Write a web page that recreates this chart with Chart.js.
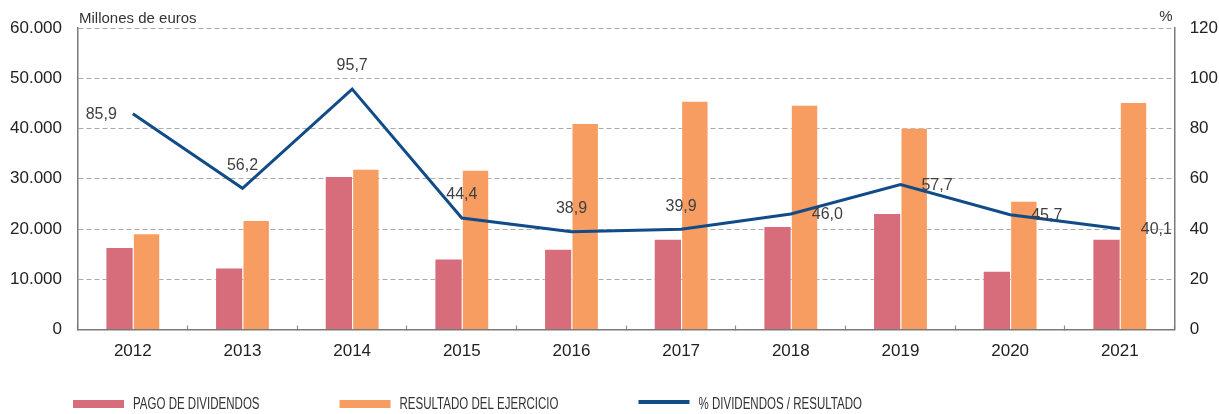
<!DOCTYPE html>
<html>
<head>
<meta charset="utf-8">
<script src="https://cdn.jsdelivr.net/npm/chart.js@4"></script>
<style>
html,body{margin:0;padding:0;background:#ffffff;}
canvas{display:block;}
</style>
</head>
<body>
<canvas id="c" width="1219" height="414"></canvas>
<script>
// ---- data ----
const categories = ['2012','2013','2014','2015','2016','2017','2018','2019','2020','2021'];
const dividendos = [16440, 12330, 30560, 14120, 16100, 18090, 20620, 23200, 11730, 18090];
const resultado  = [19150, 21810, 32000, 31800, 41090, 45530, 44730, 40160, 25650, 45270];
const porcentaje = [85.9, 56.2, 95.7, 44.4, 38.9, 39.9, 46.0, 57.7, 45.7, 40.1];
const seriesNames = ['PAGO DE DIVIDENDOS', 'RESULTADO DEL EJERCICIO', '% DIVIDENDOS / RESULTADO'];
const leftAxisTitle = 'Millones de euros';
const rightAxisTitle = '%';
const labelPlacement = ['left','top','top','top','top','top','right','right','right','right'];

// ---- styles ----
const PINK = '#D76C7B';
const ORANGE = '#F79D62';
const NAVY = '#114C88';
const GRID = '#ababab';
const AXIS = '#7a7a7a';
const FONT = '"Liberation Sans", Arial, sans-serif';

const fmtThousands = v => String(v).replace(/\B(?=(\d{3})+(?!\d))/g, '.');
const fmtPct = v => v.toFixed(1).replace('.', ',');

const pointLabels = {
  id: 'pointLabels',
  afterDatasetsDraw(chart) {
    const ctx = chart.ctx;
    const meta = chart.getDatasetMeta(2);
    ctx.save();
    ctx.font = '16px ' + FONT;
    ctx.fillStyle = '#404040';
    ctx.textBaseline = 'middle';
    meta.data.forEach((pt, i) => {
      const txt = fmtPct(porcentaje[i]);
      const p = labelPlacement[i];
      if (p === 'left') { ctx.textAlign = 'right'; ctx.fillText(txt, pt.x - 16, pt.y + 1); }
      else if (p === 'right') { ctx.textAlign = 'left'; ctx.fillText(txt, pt.x + 21, pt.y + 1); }
      else { ctx.textAlign = 'center'; ctx.fillText(txt, pt.x, pt.y - 23); }
    });
    ctx.restore();
  }
};

const unitTitles = {
  id: 'unitTitles',
  afterDraw(chart) {
    const ctx = chart.ctx, a = chart.chartArea;
    ctx.save();
    ctx.font = '15px ' + FONT;
    ctx.fillStyle = '#333333';
    ctx.textBaseline = 'alphabetic';
    ctx.textAlign = 'left';
    ctx.fillText(leftAxisTitle, a.left + 1, 23);
    ctx.textAlign = 'right';
    ctx.fillText(rightAxisTitle, a.right - 2, 21);
    ctx.restore();
  }
};

const customLegend = {
  id: 'customLegend',
  afterDraw(chart) {
    const ctx = chart.ctx;
    const squeeze = 0.72;
    ctx.save();
    ctx.font = '16px ' + FONT;
    ctx.textBaseline = 'middle';
    ctx.textAlign = 'left';
    let x = 73;
    const yMid = 404;
    chart.data.datasets.forEach(ds => {
      if (ds.type === 'line') {
        ctx.fillStyle = ds.borderColor;
        ctx.fillRect(x, yMid - 4, 51, 4);
      } else {
        ctx.fillStyle = ds.backgroundColor;
        ctx.fillRect(x, yMid - 4, 51, 8);
      }
      ctx.fillStyle = '#333333';
      const tx = x + 60;
      ctx.save();
      ctx.translate(tx, yMid + 1);
      ctx.scale(squeeze, 1);
      ctx.fillText(ds.label, 0, 0);
      ctx.restore();
      x = tx + ctx.measureText(ds.label).width * squeeze + 80;
    });
    ctx.restore();
  }
};

new Chart(document.getElementById('c'), {
  data: {
    labels: categories,
    datasets: [
      { type: 'bar', label: seriesNames[0], data: dividendos, backgroundColor: PINK,
        borderColor: 'rgba(255,255,255,0.3)', borderWidth: {top:1,left:1,right:0,bottom:0},
        yAxisID: 'y', order: 1, barPercentage: 1.0, categoryPercentage: 0.5 },
      { type: 'bar', label: seriesNames[1], data: resultado, backgroundColor: ORANGE,
        borderColor: 'rgba(255,255,255,0.3)', borderWidth: {top:1,left:1,right:1,bottom:0},
        yAxisID: 'y', order: 1, barPercentage: 1.0, categoryPercentage: 0.5 },
      { type: 'line', label: seriesNames[2], data: porcentaje, borderColor: NAVY, backgroundColor: NAVY,
        borderWidth: 3, pointRadius: 0, tension: 0, yAxisID: 'y1', order: 0 }
    ]
  },
  options: {
    responsive: false,
    animation: false,
    devicePixelRatio: 1,
    layout: { padding: { top: 28, left: -6, right: -14, bottom: 36 } },
    plugins: { legend: { display: false }, tooltip: { enabled: false } },
    scales: {
      x: {
        offset: true,
        grid: { display: true, drawOnChartArea: false, drawTicks: true, tickLength: -4, tickColor: '#8a8a8a', tickWidth: 1.2, offset: true },
        border: { display: true, color: AXIS, width: 1.5 },
        ticks: { color: '#222222', font: { family: FONT, size: 17 }, padding: 16 }
      },
      y: {
        position: 'left', min: 0, max: 60000,
        grid: { color: GRID, lineWidth: 1, drawTicks: false },
        border: { display: true, color: AXIS, width: 1.5, dash: [5, 3] },
        ticks: { stepSize: 10000, color: '#222222', font: { family: FONT, size: 17 }, padding: 16,
          callback: v => fmtThousands(v) }
      },
      y1: {
        position: 'right', min: 0, max: 120,
        grid: { drawOnChartArea: false, drawTicks: false },
        border: { display: true, color: AXIS, width: 1.5 },
        ticks: { stepSize: 20, color: '#222222', font: { family: FONT, size: 17 }, padding: 15 }
      }
    }
  },
  plugins: [pointLabels, unitTitles, customLegend]
});
</script>
</body>
</html>
